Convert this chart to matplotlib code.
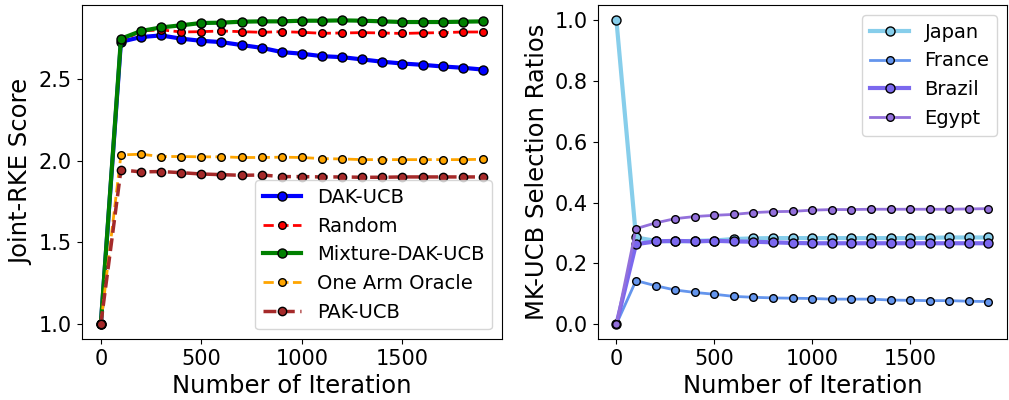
import matplotlib
matplotlib.use("Agg")
import matplotlib.pyplot as plt
import numpy as np

iters = np.arange(0, 2000, 100)

# left panel: Joint-RKE score
dak_ucb = [1.0, 2.727, 2.756, 2.766, 2.746, 2.733, 2.725, 2.707, 2.690, 2.664, 2.654,
           2.639, 2.633, 2.619, 2.605, 2.594, 2.586, 2.576, 2.568, 2.557]
random_ = [1.0, 2.730, 2.793, 2.800, 2.787, 2.789, 2.793, 2.789, 2.785, 2.789, 2.785,
           2.779, 2.781, 2.783, 2.781, 2.778, 2.781, 2.783, 2.787, 2.787]
mixture = [1.0, 2.746, 2.793, 2.815, 2.828, 2.842, 2.844, 2.850, 2.852, 2.852, 2.856,
           2.856, 2.858, 2.856, 2.852, 2.848, 2.848, 2.848, 2.850, 2.852]
oracle = [1.0, 2.035, 2.039, 2.025, 2.025, 2.023, 2.023, 2.019, 2.019, 2.021, 2.019,
          2.012, 2.010, 2.006, 2.006, 2.006, 2.006, 2.006, 2.006, 2.008]
pak_ucb = [1.0, 1.943, 1.931, 1.933, 1.926, 1.918, 1.914, 1.910, 1.912, 1.902, 1.902,
           1.900, 1.900, 1.898, 1.898, 1.900, 1.900, 1.900, 1.900, 1.900]

# right panel: selection ratios
japan = [1.0, 0.285, 0.274, 0.272, 0.274, 0.275, 0.280, 0.282, 0.283, 0.283, 0.283,
         0.283, 0.283, 0.283, 0.283, 0.283, 0.284, 0.285, 0.285, 0.285]
france = [0.0, 0.143, 0.126, 0.112, 0.104, 0.098, 0.091, 0.088, 0.086, 0.085, 0.084,
          0.082, 0.082, 0.082, 0.079, 0.078, 0.077, 0.077, 0.075, 0.074]
brazil = [0.0, 0.263, 0.272, 0.274, 0.272, 0.274, 0.272, 0.271, 0.269, 0.267, 0.266,
          0.266, 0.266, 0.266, 0.266, 0.266, 0.266, 0.266, 0.266, 0.266]
egypt = [0.0, 0.314, 0.333, 0.347, 0.354, 0.358, 0.361, 0.367, 0.370, 0.371, 0.375,
         0.377, 0.377, 0.378, 0.378, 0.378, 0.378, 0.378, 0.379, 0.380]

fig = plt.figure(figsize=(10.09, 4), dpi=100)
ax1 = fig.add_axes([0.081, 0.152, 0.4165, 0.835])
ax2 = fig.add_axes([0.5925, 0.152, 0.4055, 0.835])

ax1.plot(iters, dak_ucb, "-o", color="blue", lw=3, ms=6.5, mec="black", label="DAK-UCB")
ax1.plot(iters, random_, "--o", color="red", lw=2, ms=5.5, mec="black", label="Random")
ax1.plot(iters, mixture, "-o", color="green", lw=3, ms=6.5, mec="black", label="Mixture-DAK-UCB")
ax1.plot(iters, oracle, "--o", color="orange", lw=2, ms=5.5, mec="black", label="One Arm Oracle")
ax1.plot(iters, pak_ucb, "--o", color="brown", lw=2.5, ms=6, mec="black", label="PAK-UCB")
ax1.set_xlabel("Number of Iteration", fontsize=17.5)
ax1.set_ylabel("Joint-RKE Score", fontsize=17.5)
ax1.tick_params(labelsize=15)
ax1.set_yticks([1.0, 1.5, 2.0, 2.5])
ax1.legend(loc="lower right", fontsize=14)

ax2.plot(iters, japan, "-o", color="skyblue", lw=3, ms=6.5, mec="black", label="Japan")
ax2.plot(iters, france, "-o", color="cornflowerblue", lw=2, ms=5.5, mec="black", label="France")
ax2.plot(iters, brazil, "-o", color="mediumslateblue", lw=3, ms=6.5, mec="black", label="Brazil")
ax2.plot(iters, egypt, "-o", color="mediumpurple", lw=2, ms=5.5, mec="black", label="Egypt")
ax2.set_xlabel("Number of Iteration", fontsize=17.5)
ax2.set_ylabel("MK-UCB Selection Ratios", fontsize=17.5)
ax2.tick_params(labelsize=15)
ax2.legend(loc="upper right", fontsize=14)

fig.savefig("out.png", dpi=100)
